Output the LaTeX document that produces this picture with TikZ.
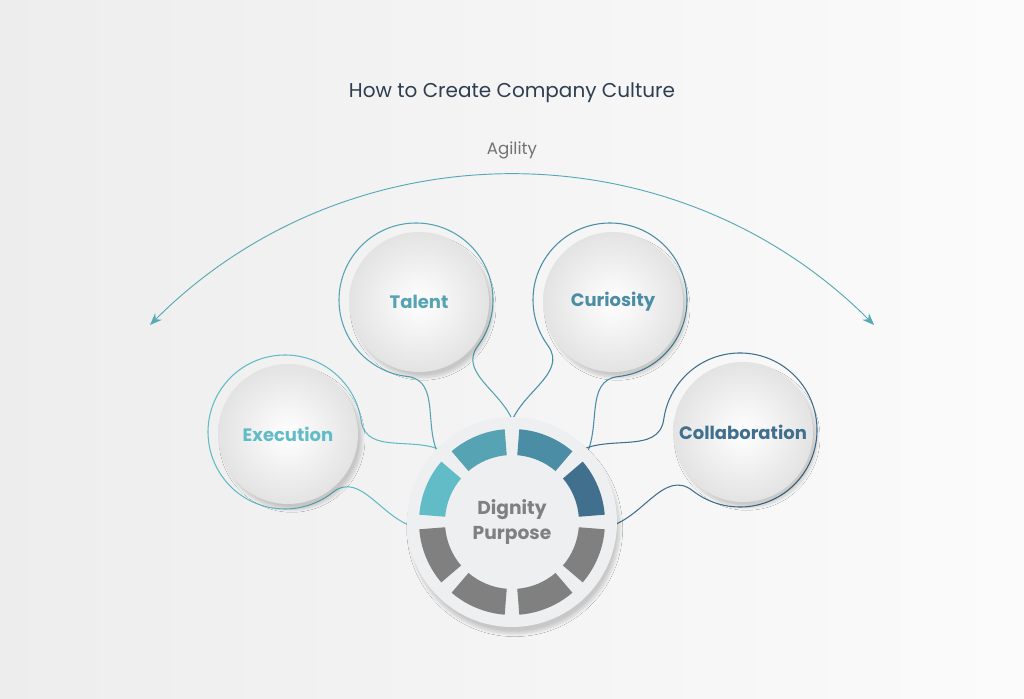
\documentclass[tikz,border=0pt]{standalone}
\usepackage{fontspec}
\setmainfont{Poppins}
\usetikzlibrary{shadows.blur,arrows.meta}
\definecolor{cA}{HTML}{62BCC8}
\definecolor{cB}{HTML}{55A3B3}
\definecolor{cC}{HTML}{4A8DA5}
\definecolor{cD}{HTML}{416F8E}
\definecolor{segg}{HTML}{808080}
\definecolor{titlec}{HTML}{2E3E50}
\definecolor{diskc}{HTML}{EEEFF0}
\begin{document}
\begin{tikzpicture}[x=0.75pt,y=0.75pt,
  sphere/.style={circle,minimum size=105pt,inner sep=0,inner color=white,outer color=black!11,blur shadow={shadow xshift=3pt,shadow yshift=-4pt,shadow blur steps=10,shadow opacity=18}},
  lab/.style={font=\bfseries\fontsize{13.5}{16}\selectfont},
  outl/.style={line width=0.8pt}]
\shade[left color=black!7,right color=black!1.5] (0,0) rectangle (1024,699);
\useasboundingbox (0,0) rectangle (1024,699);
\coordinate (D) at (512,177);
\node[font=\fontsize{15}{18}\selectfont,text=titlec] (title) at (512,606) {How to Create Company Culture};
\node[font=\fontsize{12.5}{15}\selectfont,text=black!55] (agil) at (512,549) {Agility};
\coordinate (arcL) at (150,374);
\draw[cA!90!black,line width=0.7pt,{Stealth[length=9pt,width=7pt]}-{Stealth[length=9pt,width=7pt]}] (arcL) arc[start angle=135,end angle=45,radius=512] coordinate (arcR);
% outlines
\foreach \bx/\by/\t/\c in {285/267/-21.6/cA,416/399/-66.6/cB,610/399/246.2/cC,740/269/202/cD}{
  \draw[\c,outl] ($(D)+(\t+155:95)$) to[out=\t+170,in=\t-60] ($(\bx,\by)+(\t+30:77)$)
    arc[start angle=\t+30,end angle=\t+330,radius=77]
    to[out=\t+60,in=\t+190] ($(D)+(\t+205:95)$);
}
\node[sphere] (exe) at (288,265) {};
\node[sphere] (tal) at (419,397) {};
\node[sphere] (cur) at (613,397) {};
\node[sphere] (col) at (743,267) {};
\node[lab,text=cA] at (exe) {Execution};
\node[lab,text=cB] at (tal) {Talent};
\node[lab,text=cC] at (cur) {Curiosity};
\node[lab,text=cD] at (col) {Collaboration};
% disk
\node[circle,minimum size=157.5pt,inner sep=0,fill=diskc,blur shadow={shadow xshift=2pt,shadow yshift=-5pt,shadow blur steps=10,shadow opacity=18}] (disk) at (D) {};
\foreach \a/\c in {22.5/cD,67.5/cC,112.5/cB,157.5/cA,202.5/segg,247.5/segg,292.5/segg,337.5/segg}{
  \fill[\c] ($(D)+(\a-18:93)$) arc[start angle=\a-18,end angle=\a+18,radius=93]
    -- ($(D)+(\a+18:67)$) arc[start angle=\a+18,end angle=\a-18,radius=67] -- cycle;
}
\node[align=center,font=\bfseries\fontsize{14}{19}\selectfont,text=segg] (dp) at (D) {Dignity\\Purpose};
\end{tikzpicture}
\end{document}
